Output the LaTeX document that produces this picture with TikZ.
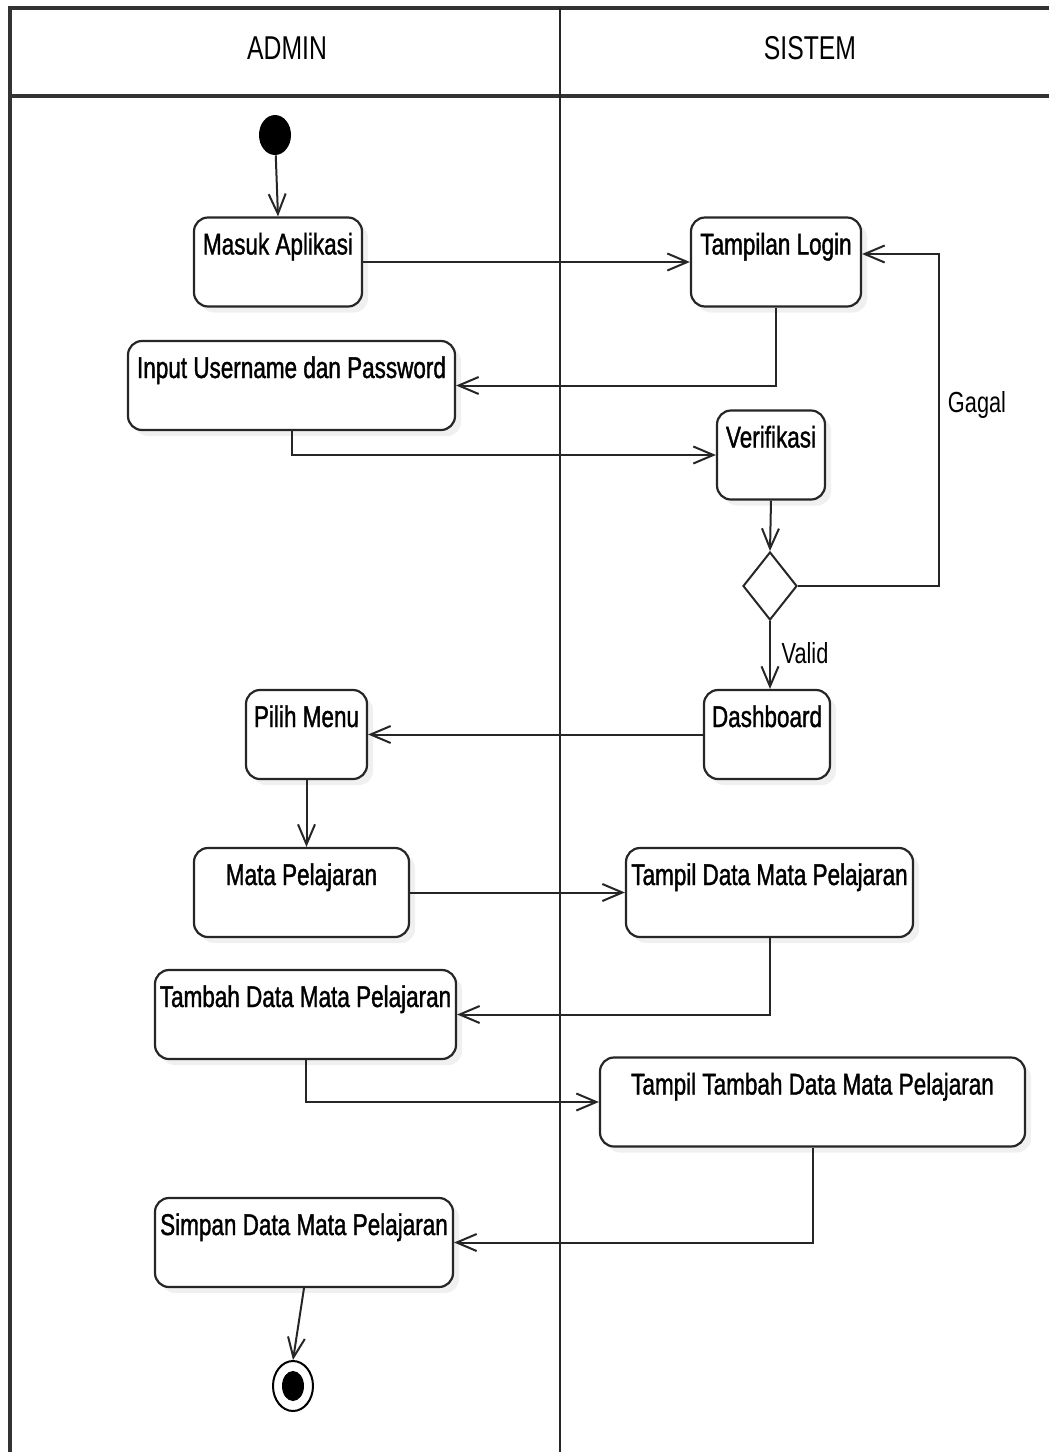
\documentclass[tikz,border=0pt]{standalone}
\usepackage{fontspec}
\setmainfont{Liberation Sans}
\newfontfamily\actfont{Liberation Sans}[FakeStretch=0.75,FakeBold=1.2]
\newfontfamily\lanefont{Liberation Sans}[FakeStretch=0.75]
\usetikzlibrary{arrows.meta,shadows,calc,shapes.geometric}

\tikzset{
  act/.style={draw=black!85, line width=1.1pt, rounded corners=7pt, fill=white,
    font=\actfont\fontsize{15}{17}\selectfont, inner xsep=0pt, inner ysep=0pt,
    text height=18.5pt, text depth=26pt,
    drop shadow={opacity=0.12, shadow xshift=3pt, shadow yshift=-3pt}},
  flow/.style={draw=black!85, line width=1pt, -{Straight Barb[length=10pt,width=8.5pt,line width=1pt]}},
  lane/.style={draw=black!80, line width=1.8pt},
  divider/.style={draw=black!85, line width=1pt},
  lanehead/.style={font=\lanefont\fontsize{16.5}{18}\selectfont},
  guard/.style={font=\lanefont\fontsize{14.5}{16}\selectfont},
  startdot/.style={ellipse, fill=black, minimum width=16pt, minimum height=20pt, inner sep=0pt},
}

\begin{document}
\begin{tikzpicture}[x=0.5pt, y=-0.5pt]
  \useasboundingbox (0,0) rectangle (1049,1452);

  % swimlane frame
  \draw[lane] (10,1452) -- (10,8) -- (1049,8);
  \draw[lane] (10,96) -- (1049,96);
  \draw[divider] (560,8) -- (560,1452);
  \node[lanehead] (admin) at (287,48) {ADMIN};
  \node[lanehead] (sistem) at (810,48) {SISTEM};

  % initial node
  \node[startdot] (start) at (275,135) {};

  % activities
  \node[act, minimum width=84pt]  (masuk)   at (278,262)  {Masuk Aplikasi};
  \node[act, minimum width=85pt]  (login)   at (776,262)  {Tampilan Login};
  \node[act, minimum width=163.5pt] (input) at (291.5,385.5) {Input Username dan Password};
  \node[act, minimum width=54pt]  (verif)   at (771,455)  {Verifikasi};
  \node[draw=black!85, line width=1pt, diamond, aspect=0.8, minimum width=27pt, minimum height=34pt, inner sep=0pt, fill=white] (cek) at (770,586) {};
  \node[act, minimum width=63pt]  (dash)    at (767,734.5) {Dashboard};
  \node[act, minimum width=60.5pt] (menu)   at (306.5,734.5) {Pilih Menu};
  \node[act, minimum width=107.5pt] (mapel) at (301.5,892.5) {Mata Pelajaran};
  \node[act, minimum width=143.5pt] (tampil) at (769.5,892.5) {Tampil Data Mata Pelajaran};
  \node[act, minimum width=150.5pt] (tambah) at (305.5,1014.5) {Tambah Data Mata Pelajaran};
  \node[act, minimum width=212.5pt] (formtambah) at (812.5,1102) {Tampil Tambah Data Mata Pelajaran};
  \node[act, minimum width=149pt] (simpan) at (304,1242.5) {Simpan Data Mata Pelajaran};

  % final node
  \node[ellipse, draw=black, line width=1pt, minimum width=20pt, minimum height=25pt, inner sep=0pt] (final) at (293,1386) {};
  \node[startdot, minimum width=11pt, minimum height=15pt] (finaldot) at (final.center) {};

  % control flow
  \draw[flow] (start) -- (masuk.north);
  \draw[flow] (masuk.east) -- (login.west |- masuk.east);
  \draw[flow] (login.south) |- (input.east);
  \draw[flow] (input.south) |- (verif.west);
  \draw[flow] (verif.south) -- (cek.north);
  \coordinate (gagalturn) at (939,254);
  \draw[flow] (cek.east) -| (gagalturn) -- (login.east |- gagalturn);
  \node[guard] (gagal) at (977,405) {Gagal};
  \draw[flow] (cek.south) -- (dash.north -| cek.south);
  \node[guard] (valid) at (805,653) {Valid};
  \draw[flow] (dash.west) -- (menu.east);
  \draw[flow] (menu.south) -- (mapel.north -| menu.south);
  \draw[flow] (mapel.east) -- (tampil.west);
  \draw[flow] (tampil.south) |- (tambah.east);
  \draw[flow] (tambah.south) |- (formtambah.west);
  \draw[flow] (formtambah.south) |- (simpan.east);
  \draw[flow] (simpan.south) -- (final.north);
\end{tikzpicture}
\end{document}
